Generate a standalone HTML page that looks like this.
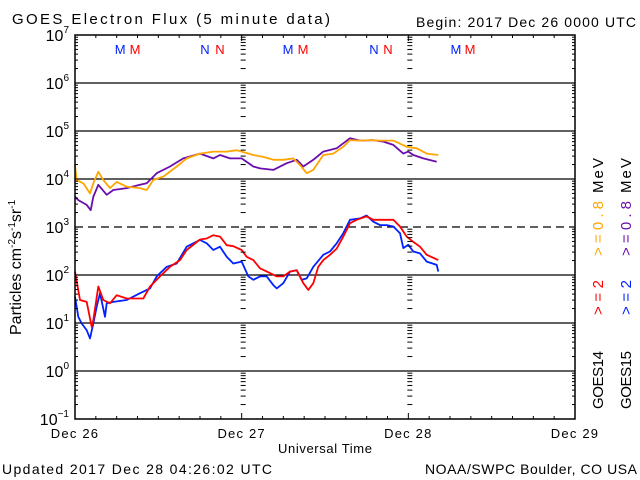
<!DOCTYPE html>
<html><head><meta charset="utf-8">
<style>
body{margin:0;background:#fff;}
svg{display:block;font-family:"Liberation Sans",sans-serif;}
</style></head>
<body>
<svg id="chart" width="640" height="480" viewBox="0 0 640 480" xmlns="http://www.w3.org/2000/svg">
<rect width="640" height="480" fill="#fff"/>
<text x="12" y="24" font-size="15" textLength="318" lengthAdjust="spacing">GOES Electron Flux (5 minute data)</text>
<text x="416" y="27" font-size="14" textLength="220" lengthAdjust="spacing">Begin: 2017 Dec 26 0000 UTC</text>
<text x="2" y="474" font-size="14" textLength="270" lengthAdjust="spacing">Updated 2017 Dec 28 04:26:02 UTC</text>
<text x="425" y="474" font-size="14" textLength="212" lengthAdjust="spacing">NOAA/SWPC Boulder, CO USA</text>
<text x="278" y="453" font-size="13" textLength="94" lengthAdjust="spacing">Universal Time</text>
<text transform="translate(21,335) rotate(-90)" font-size="16">Particles cm<tspan font-size="10" dy="-6">-2</tspan><tspan dy="6">s</tspan><tspan font-size="10" dy="-6">-1</tspan><tspan dy="6">sr</tspan><tspan font-size="10" dy="-6">-1</tspan></text>
<g id="legend" font-size="15">
<text transform="translate(603,256) rotate(-90)" fill="#ffa500" textLength="55" lengthAdjust="spacing">&gt;=0.8</text>
<text transform="translate(631,256) rotate(-90)" fill="#6a0dad" textLength="55" lengthAdjust="spacing">&gt;=0.8</text>
<text transform="translate(603,193) rotate(-90)" textLength="35" lengthAdjust="spacing">MeV</text>
<text transform="translate(631,193) rotate(-90)" textLength="35" lengthAdjust="spacing">MeV</text>
<text transform="translate(603,315) rotate(-90)" fill="#ff0000" textLength="35" lengthAdjust="spacing">&gt;=2</text>
<text transform="translate(631,315) rotate(-90)" fill="#0022ff" textLength="35" lengthAdjust="spacing">&gt;=2</text>
<text transform="translate(603,409) rotate(-90)" textLength="58" lengthAdjust="spacing">GOES14</text>
<text transform="translate(631,409) rotate(-90)" textLength="58" lengthAdjust="spacing">GOES15</text>
</g>
<g id="grid"></g>
<g id="series"></g>
<g id="axes"></g>
</svg>
<script>
const dayLabels=["Dec 26","Dec 27","Dec 28","Dec 29"];
const decadeExps=[-1,0,1,2,3,4,5,6,7];
const markerLabels=["M","M","N","N","M","M","N","N","M","M"];
const markerHours=[6.5,8.64,18.72,20.88,30.67,32.83,43.05,45.07,54.86,56.88];
const g14_2_h=[0,0.72,1.68,2.4,2.64,3.36,4.08,5.04,6,7.44,9.84,10.8,12.24,13.68,15.12,16.08,18,18.96,19.92,20.88,21.84,22.8,24,24.72,25.68,26.64,28.08,29.04,30,30.96,31.92,32.88,33.6,34.32,35.04,35.76,36.72,37.68,38.64,39.6,40.56,42,42.96,44.88,45.84,46.8,47.76,48.72,49.68,50.64,52.32];
const g14_2_log=[2.07,1.48,1.44,0.92,1.06,1.76,1.48,1.41,1.58,1.51,1.51,1.76,1.97,2.17,2.31,2.52,2.74,2.76,2.83,2.8,2.62,2.6,2.52,2.38,2.31,2.14,2.04,1.97,1.97,2.07,2.1,1.83,1.69,1.83,2.17,2.31,2.42,2.55,2.8,3.08,3.15,3.22,3.15,3.15,3.15,3.01,2.8,2.69,2.59,2.42,2.31];
const g15_2_h=[0,0.48,0.96,1.68,2.16,2.64,3.12,3.6,4.32,4.56,5.52,7.44,9.36,10.8,11.76,13.2,14.64,16.08,17.04,18,18.96,19.92,20.88,21.84,22.8,24,24.96,25.68,26.64,27.6,28.56,29.04,30,30.96,31.92,32.64,33.36,34.32,35.76,36.72,37.68,38.64,39.6,41.04,42,42.96,43.92,44.88,45.84,46.8,47.28,48,48.72,49.68,50.64,52.08,52.32];
const g15_2_log=[1.55,1.13,0.99,0.85,0.68,0.99,1.34,1.62,1.13,1.41,1.44,1.48,1.62,1.72,1.97,2.17,2.24,2.59,2.66,2.73,2.66,2.52,2.59,2.38,2.24,2.28,1.97,1.9,1.97,1.97,1.79,1.72,1.83,2.07,2.1,1.9,1.93,2.17,2.42,2.49,2.66,2.87,3.15,3.18,3.24,3.11,3.04,3.04,3.01,2.87,2.56,2.63,2.49,2.45,2.28,2.21,2.07];
const g14_08_h=[0,0.24,1.2,2.16,2.64,3.36,4.08,5.04,6,7.44,9.36,10.32,11.28,12.72,14.64,16.08,18,19.92,21.84,23.28,24,25.68,27.12,28.56,30,31.44,32.4,33.36,34.32,35.76,37.2,38.64,39.6,41.04,42.48,43.92,45.84,47.76,49.2,50.64,52.32];
const g14_08_log=[4.29,3.98,3.91,3.7,3.91,4.15,3.98,3.81,3.94,3.84,3.81,3.77,3.98,4.05,4.26,4.43,4.53,4.57,4.57,4.6,4.57,4.5,4.46,4.4,4.4,4.43,4.29,4.12,4.19,4.5,4.53,4.67,4.81,4.8,4.81,4.8,4.8,4.67,4.64,4.53,4.5];
const g15_08_h=[0,0.48,1.68,2.26,2.64,3.36,4.56,5.52,7.44,9.36,10.32,11.76,13.68,15.6,18,19.92,20.88,22.32,24,25.68,26.64,28.56,30.48,31.92,32.88,34.32,35.76,37.68,39.6,41.04,42.96,44.4,45.84,47.28,48,48.72,50.16,52.08];
const g15_08_log=[3.63,3.56,3.46,3.35,3.63,3.88,3.67,3.77,3.81,3.88,3.91,4.12,4.26,4.43,4.53,4.43,4.5,4.43,4.43,4.26,4.22,4.19,4.33,4.4,4.26,4.4,4.57,4.64,4.85,4.8,4.81,4.78,4.71,4.53,4.57,4.5,4.43,4.36];

const L=75,R=575,T=35,B=419;
const xs=h=>L+(R-L)*h/72;
const ys=lg=>B-(lg+1)*(B-T)/8;
const NS="http://www.w3.org/2000/svg";
function mk(tag,attrs,parent){const e=document.createElementNS(NS,tag);for(const k in attrs)e.setAttribute(k,attrs[k]);parent.appendChild(e);return e;}
const grid=document.getElementById('grid'),axes=document.getElementById('axes'),series=document.getElementById('series');

decadeExps.forEach(ex=>{
  if(ex<=-1||ex>=7)return;
  const ln=mk('line',{x1:L,x2:R,y1:ys(ex),y2:ys(ex),stroke:'#000','stroke-width':1.2},grid);
  if(ex===3){ln.setAttribute('stroke-dasharray','8,5');}
  
  
});
for(let ex=-1;ex<7;ex++){
  for(let m=2;m<=9;m++){
    const y=ys(ex+Math.log10(m));
    mk('line',{x1:L,x2:L+3,y1:y,y2:y,stroke:'#000'},axes);
    mk('line',{x1:R-3,x2:R,y1:y,y2:y,stroke:'#000'},axes);
    [24,48].forEach(h=>{const x=xs(h);mk('line',{x1:x-1,x2:x+4,y1:y,y2:y,stroke:'#000'},axes);});
  }
  mk('line',{x1:L,x2:L+6,y1:ys(ex),y2:ys(ex),stroke:'#000'},axes);
  mk('line',{x1:R-6,x2:R,y1:ys(ex),y2:ys(ex),stroke:'#000'},axes);
}
for(let h=3;h<72;h+=3){
  const len=(h%24===0)?6:3;
  mk('line',{x1:xs(h),x2:xs(h),y1:B,y2:B-len,stroke:'#000'},axes);
  mk('line',{x1:xs(h),x2:xs(h),y1:T,y2:T+len,stroke:'#000'},axes);
}
const fr=mk('rect',{x:L,y:T,width:R-L,height:B-T,fill:'none',stroke:'#000','stroke-width':1.5},axes);


decadeExps.forEach(ex=>{
  const t=mk('text',{x:L-6,y:ys(ex)+6,'text-anchor':'end','font-size':16},axes);
  
  
  t.appendChild(document.createTextNode('10'));
  const s=mk('tspan',{'font-size':10,dy:-8},t);s.textContent=String(ex).replace('-','\u2212');
});
dayLabels.forEach((d,i)=>{
  const t=mk('text',{x:xs(i*24),y:438,'text-anchor':'middle','font-size':13,'letter-spacing':1.2},axes);
  
  
  t.textContent=d;
});
markerLabels.forEach((m,i)=>{
  const t=mk('text',{x:xs(markerHours[i]),y:54,'text-anchor':'middle','font-size':13,fill:(i%2===0)?'#0022ff':'#ff0000'},axes);
  
  
  t.textContent=m;
});
function draw(hs,lg,color,name){
  const p=mk('polyline',{points:hs.map((h,i)=>xs(h).toFixed(1)+','+ys(lg[i]).toFixed(1)).join(' '),fill:'none',stroke:color,'stroke-width':1.8,'stroke-linejoin':'round'},series);
  
  
}
draw(g15_08_h,g15_08_log,'#6a0dad','goes15-08mev-line');
draw(g14_08_h,g14_08_log,'#ffa500','goes14-08mev-line');
draw(g15_2_h,g15_2_log,'#0022ff','goes15-2mev-line');
draw(g14_2_h,g14_2_log,'#ff0000','goes14-2mev-line');
</script>
</body></html>
